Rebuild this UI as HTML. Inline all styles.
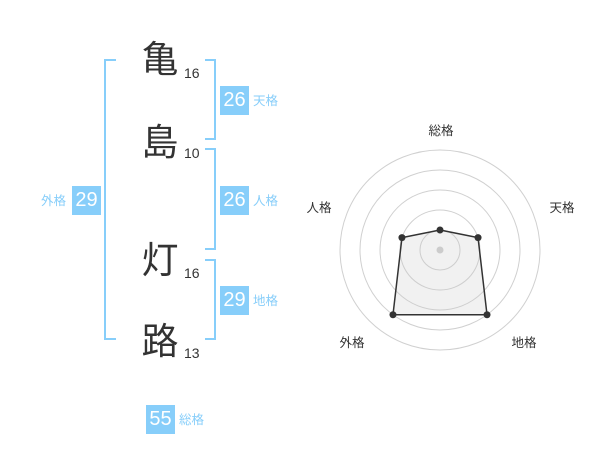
<!DOCTYPE html>
<html>
<head>
<meta charset="utf-8">
<style>
  html,body{margin:0;padding:0;background:#fff;}
  body{width:600px;height:470px;position:relative;overflow:hidden;
       font-family:"Liberation Sans","Noto Sans CJK JP",sans-serif;}
  .k{position:absolute;font-size:37px;line-height:37px;color:#333;width:40px;text-align:center;
     font-family:"Liberation Sans","Noto Sans CJK JP",sans-serif;}
  .n{position:absolute;font-size:14px;line-height:14px;color:#333;}
  .box{position:absolute;width:29px;height:29px;background:#87cefa;color:#fff;font-size:20px;
       display:flex;align-items:center;justify-content:center;line-height:29px;}
  .lb{position:absolute;font-size:12.5px;line-height:14px;color:#87cefa;white-space:nowrap;}
  .rl{position:absolute;font-size:12.5px;line-height:14px;color:#333;white-space:nowrap;width:40px;text-align:center;}
  svg{position:absolute;left:0;top:0;}
</style>
</head>
<body>
<svg width="600" height="470" viewBox="0 0 600 470">
  <g fill="none" stroke="#87cefa" stroke-width="2">
    <path d="M116,60 H105 V339 H116"/>
    <path d="M205,60 H215 V139 H205"/>
    <path d="M205,149 H215 V249 H205"/>
    <path d="M205,260 H215 V339 H205"/>
  </g>
  <g fill="none" stroke="#d0d0d0" stroke-width="1">
    <circle cx="440" cy="250" r="20"/>
    <circle cx="440" cy="250" r="40"/>
    <circle cx="440" cy="250" r="60"/>
    <circle cx="440" cy="250" r="80"/>
    <circle cx="440" cy="250" r="100"/>
  </g>
  <polygon points="440,230 478.04,237.64 487.02,314.72 392.98,314.72 401.96,237.64"
           fill="rgba(200,200,200,0.25)" stroke="#333" stroke-width="1.5"/>
  <circle cx="440" cy="250" r="3.5" fill="#ccc"/>
  <g fill="#333">
    <circle cx="440" cy="230" r="3.5"/>
    <circle cx="478.04" cy="237.64" r="3.5"/>
    <circle cx="487.02" cy="314.72" r="3.5"/>
    <circle cx="392.98" cy="314.72" r="3.5"/>
    <circle cx="401.96" cy="237.64" r="3.5"/>
  </g>
</svg>

<div class="k" style="left:140px;top:41px;">亀</div>
<div class="k" style="left:140px;top:124px;">島</div>
<div class="k" style="left:140px;top:242px;">灯</div>
<div class="k" style="left:140px;top:323px;">路</div>

<div class="n" style="left:184px;top:66px;">16</div>
<div class="n" style="left:184px;top:146px;">10</div>
<div class="n" style="left:184px;top:266px;">16</div>
<div class="n" style="left:184px;top:346px;">13</div>

<div class="box" style="left:220px;top:86px;">26</div>
<div class="lb" style="left:253px;top:94px;">天格</div>
<div class="box" style="left:220px;top:186px;">26</div>
<div class="lb" style="left:253px;top:194px;">人格</div>
<div class="box" style="left:220px;top:286px;">29</div>
<div class="lb" style="left:253px;top:294px;">地格</div>
<div class="box" style="left:72px;top:186px;">29</div>
<div class="lb" style="left:41px;top:194px;">外格</div>
<div class="box" style="left:146px;top:405px;">55</div>
<div class="lb" style="left:179px;top:413px;">総格</div>

<div class="rl" style="left:421px;top:124px;">総格</div>
<div class="rl" style="left:542px;top:201px;">天格</div>
<div class="rl" style="left:299px;top:201px;">人格</div>
<div class="rl" style="left:332px;top:336px;">外格</div>
<div class="rl" style="left:504px;top:336px;">地格</div>
</body>
</html>
